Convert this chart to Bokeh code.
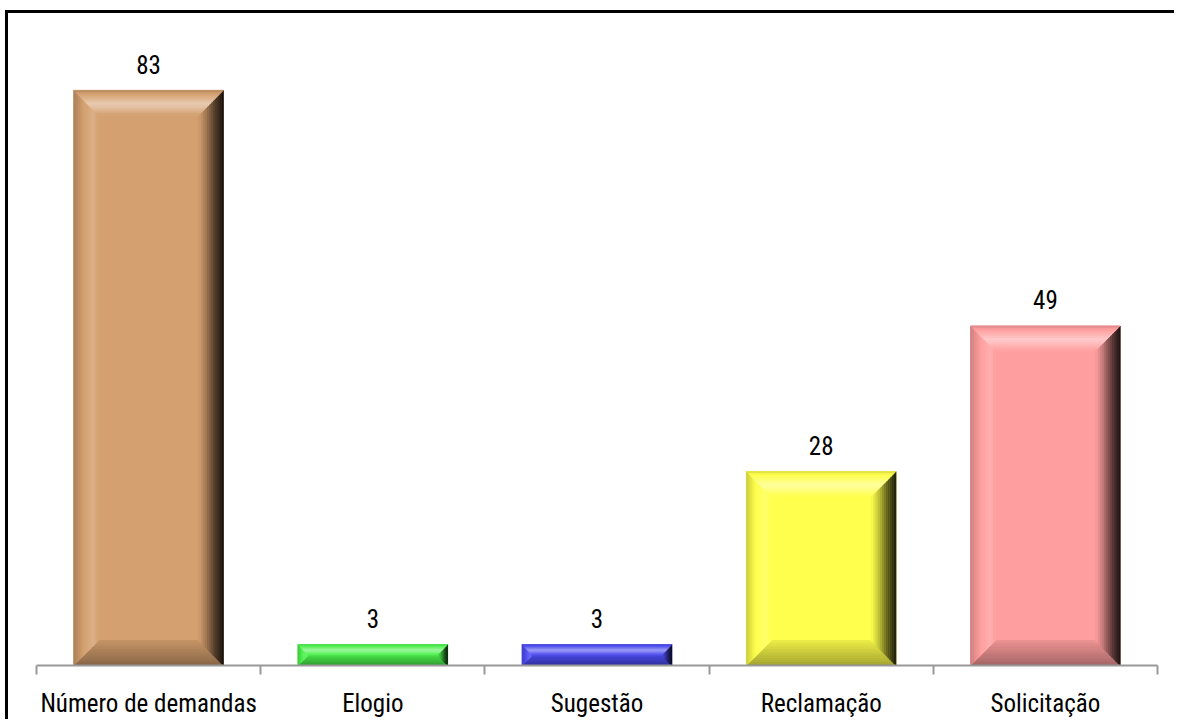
import numpy as np
from bokeh.plotting import figure
from bokeh.models import Range1d, LinearAxis, FixedTicker
from bokeh.core.properties import value
from bokeh.embed import file_html
from bokeh.resources import INLINE

# Demand counts per category
categories = ["Número de demandas", "Elogio", "Sugestão", "Reclamação", "Solicitação"]
counts = [83, 3, 3, 28, 49]
bar_colors = ["#D4A06F", "#4DF04D", "#4D4DF0", "#FFFF4D", "#FF9E9E"]

FONT = "Roboto Condensed"
FONT_SIZE = "25px"

CANVAS_W, CANVAS_H = 1169, 709
B_LEFT, B_RIGHT, B_TOP, B_BOTTOM = 28, 20, 0, 57
Y_MAX = 94.1
BAR_WIDTH = 0.667      # fraction of a category slot
BEVEL_PX = 25          # bevel depth in pixels
N_STRIPS = 12          # strips used to fake the bevel gradients

n = len(categories)
centers = [i + 0.5 for i in range(n)]
frame_w = CANVAS_W - B_LEFT - B_RIGHT
frame_h = CANVAS_H - B_TOP - B_BOTTOM
px_per_x = frame_w / n
px_per_y = frame_h / Y_MAX

p = figure(width=CANVAS_W, height=CANVAS_H,
           x_range=Range1d(0, n), y_range=Range1d(0, Y_MAX),
           x_axis_location=None, y_axis_location=None,
           output_backend="svg", toolbar_location=None,
           min_border_left=B_LEFT, min_border_right=B_RIGHT,
           min_border_top=B_TOP, min_border_bottom=B_BOTTOM)
p.grid.visible = False
p.outline_line_color = None
p.background_fill_color = "white"
p.border_fill_color = "white"
# black rule along the top and left edges of the chart box
p.styles = {"margin-left": "8px", "margin-top": "13px", "overflow": "hidden",
            "box-shadow": "-3px -3px 0px 0px black"}


def hex_rgb(h):
    h = h.lstrip("#")
    return tuple(int(h[i:i + 2], 16) for i in (0, 2, 4))


def shade(rgb, k):
    # k > 0 lightens toward white, k < 0 darkens toward black
    tgt = 255 if k > 0 else 0
    a = abs(k)
    r, g, b = (int(round(c * (1 - a) + tgt * a)) for c in rgb)
    return "#%02x%02x%02x" % (r, g, b)


# brightness profiles across each bevel side, from outer edge (0) to inner edge (1)
profiles = {
    "top":    [(0.0, -0.15), (0.15, 0.0), (0.55, 0.45), (0.75, 0.3), (1.0, 0.0)],
    "left":   [(0.0, -0.2), (0.5, 0.05), (0.8, 0.18), (1.0, 0.0)],
    "right":  [(0.0, -0.9), (0.35, -0.62), (0.7, -0.25), (1.0, 0.0)],
    "bottom": [(0.0, -0.42), (0.15, -0.32), (0.5, -0.22), (1.0, -0.08)],
}


def profile_at(name, t):
    pts = profiles[name]
    return float(np.interp(t, [a for a, _ in pts], [b for _, b in pts]))


def lerp(a, b, t):
    return (a[0] + (b[0] - a[0]) * t, a[1] + (b[1] - a[1]) * t)


face_x, face_y, face_c = [], [], []
xs, ys, cols = [], [], []
for c, v, col in zip(centers, counts, bar_colors):
    rgb = hex_rgb(col)
    xl, xr = c - BAR_WIDTH / 2, c + BAR_WIDTH / 2
    h_px = v * px_per_y
    d = min(BEVEL_PX, h_px / 2.0)
    dx, dy = d / px_per_x, d / px_per_y
    face_x.append([xl, xr, xr, xl])
    face_y.append([0, 0, v, v])
    face_c.append(col)
    sides = {
        "bottom": ((xl, 0), (xr, 0), (xl + dx, dy), (xr - dx, dy)),
        "left":   ((xl, 0), (xl, v), (xl + dx, dy), (xl + dx, v - dy)),
        "right":  ((xr, 0), (xr, v), (xr - dx, dy), (xr - dx, v - dy)),
        "top":    ((xl, v), (xr, v), (xl + dx, v - dy), (xr - dx, v - dy)),
    }
    for name, (p0, p1, q0, q1) in sides.items():
        for i in range(N_STRIPS):
            ta, tb = i / N_STRIPS, (i + 1) / N_STRIPS
            a0, a1 = lerp(p0, q0, ta), lerp(p1, q1, ta)
            b0, b1 = lerp(p0, q0, tb), lerp(p1, q1, tb)
            xs.append([a0[0], a1[0], b1[0], b0[0]])
            ys.append([a0[1], a1[1], b1[1], b0[1]])
            cols.append(shade(rgb, profile_at(name, (ta + tb) / 2)))

p.patches(face_x, face_y, fill_color=face_c, line_color=face_c, line_width=0.8)
p.patches(xs, ys, fill_color=cols, line_color=cols, line_width=0.8)

# value labels above the bars
p.text(x=centers, y=counts, text=[str(v) for v in counts],
       text_align="center", text_baseline="alphabetic", y_offset=-26,
       text_font=value(FONT), text_font_size=FONT_SIZE, text_color="black")

# category axis: labels at slot centres, ticks at slot boundaries
xaxis = LinearAxis(
    ticker=FixedTicker(ticks=centers, minor_ticks=list(range(n + 1))),
    major_label_overrides={c: lab for c, lab in zip(centers, categories)},
    major_label_text_font=FONT, major_label_text_font_size=FONT_SIZE,
    major_label_text_color="black", major_label_standoff=14,
    major_tick_line_color=None, major_tick_in=0, major_tick_out=0,
    minor_tick_line_color="#999999", minor_tick_line_width=2,
    minor_tick_in=0, minor_tick_out=9,
    axis_line_color="#999999", axis_line_width=2,
)
p.add_layout(xaxis, "below")

html = file_html(p, INLINE)
# the chart fills the page exactly; keep the page from scrolling
html = html.replace("<head>", "<head>\n<style>html, body { margin: 0; overflow: hidden; }</style>", 1)
open("out.html", "w").write(html)
